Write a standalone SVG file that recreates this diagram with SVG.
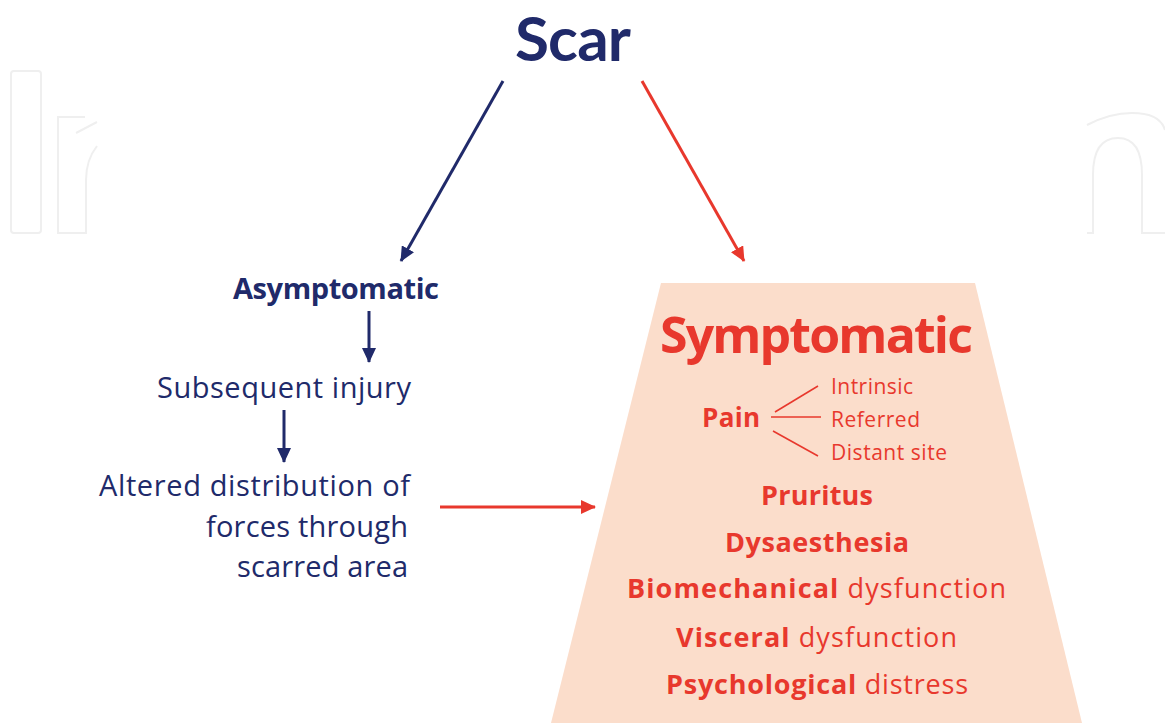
<svg xmlns="http://www.w3.org/2000/svg" width="1165" height="723" viewBox="0 0 1165 723">
<defs>
<style>
text{font-variant-ligatures:none}
.navy{fill:#202A6A;font-family:"Open Sans",Lato,"Liberation Sans",sans-serif}
.red{fill:#E8382D;font-family:"Open Sans",Lato,"Liberation Sans",sans-serif}
.lato{font-family:Lato,"Open Sans","Liberation Sans",sans-serif}
.b{font-weight:bold}
.wm{fill:none;stroke:#EFEFEF;stroke-width:2}
.ln-navy{stroke:#202A6A;stroke-width:3;fill:none}
.ln-red{stroke:#E8382D;stroke-width:3;fill:none}
.br{stroke:#E8382D;stroke-width:1.6;fill:none}
</style>
<marker id="ahN" markerUnits="userSpaceOnUse" markerWidth="16" markerHeight="14" refX="14" refY="7" orient="auto"><path d="M0,0 L15,7 L0,14 Z" fill="#202A6A"/></marker>
<marker id="ahR" markerUnits="userSpaceOnUse" markerWidth="16" markerHeight="14" refX="14" refY="7" orient="auto"><path d="M0,0 L15,7 L0,14 Z" fill="#E8382D"/></marker>
</defs>
<rect width="1165" height="723" fill="#FFFFFF"/>
<g id="watermark">
<rect class="wm" x="11" y="71" width="30" height="162" rx="3"/>
<path class="wm" d="M87,233 L58,233 L58,117 L85,117"/>
<path class="wm" d="M97,122 L76,133"/>
<path class="wm" d="M97,146 Q86,160 86,180 L86,233"/>
<path class="wm" d="M1087,233 L1093,233 L1093,175 Q1093,138 1118,138 Q1142,138 1142,175 L1142,233 L1165,233"/>
<path class="wm" d="M1087,125 Q1110,113 1132,113 Q1160,113 1165,130"/>
</g>
<g id="trapezoid">
<polygon points="661,283 975,283 1082,723 551,723" fill="#FBDDCB"/>
</g>
<g id="connectors">
<line class="ln-navy" x1="503" y1="81" x2="401" y2="261" marker-end="url(#ahN)"/>
<line class="ln-red" x1="642" y1="81" x2="744" y2="261" marker-end="url(#ahR)"/>
<line class="ln-navy" x1="369" y1="311" x2="369" y2="362" marker-end="url(#ahN)"/>
<line class="ln-navy" x1="284" y1="410" x2="284" y2="462" marker-end="url(#ahN)"/>
<line class="ln-red" x1="440" y1="507" x2="595" y2="507" marker-end="url(#ahR)"/>
<line class="br" x1="775" y1="412" x2="818" y2="386"/>
<line class="br" x1="771" y1="417" x2="821" y2="417"/>
<line class="br" x1="773" y1="431" x2="818" y2="456"/>
</g>
<g id="scar"><text class="navy lato b" x="515" y="61" font-size="62" textLength="116">Scar</text></g>
<g id="asymptomatic"><text class="navy b" x="233" y="299" font-size="29" textLength="206">Asymptomatic</text></g>
<g id="subsequent"><text class="navy" x="157" y="398" font-size="29" textLength="254">Subsequent injury</text></g>
<g id="altered">
<text class="navy" x="99" y="496" font-size="29" textLength="311">Altered distribution of</text>
<text class="navy" x="206" y="537" font-size="29" textLength="202">forces through</text>
<text class="navy" x="237" y="577" font-size="29" textLength="171">scarred area</text>
</g>
<g id="symptomatic">
<text class="red b" x="660" y="353" font-size="50" textLength="313">Symptomatic</text>
<text class="red b" x="702" y="427" font-size="26" textLength="58">Pain</text>
<text class="red" x="831" y="394" font-size="21" textLength="82">Intrinsic</text>
<text class="red" x="831" y="427" font-size="21" textLength="89">Referred</text>
<text class="red" x="831" y="460" font-size="21" textLength="116">Distant site</text>
<text class="red b" x="761" y="505" font-size="27" textLength="112">Pruritus</text>
<text class="red b" x="725" y="552" font-size="27" textLength="184">Dysaesthesia</text>
<text class="red" x="627" y="598" font-size="27" textLength="379"><tspan class="b">Biomechanical</tspan> dysfunction</text>
<text class="red" x="676" y="647" font-size="27" textLength="281"><tspan class="b">Visceral</tspan> dysfunction</text>
<text class="red" x="666" y="694" font-size="27" textLength="302"><tspan class="b">Psychological</tspan> distress</text>
</g>
</svg>
